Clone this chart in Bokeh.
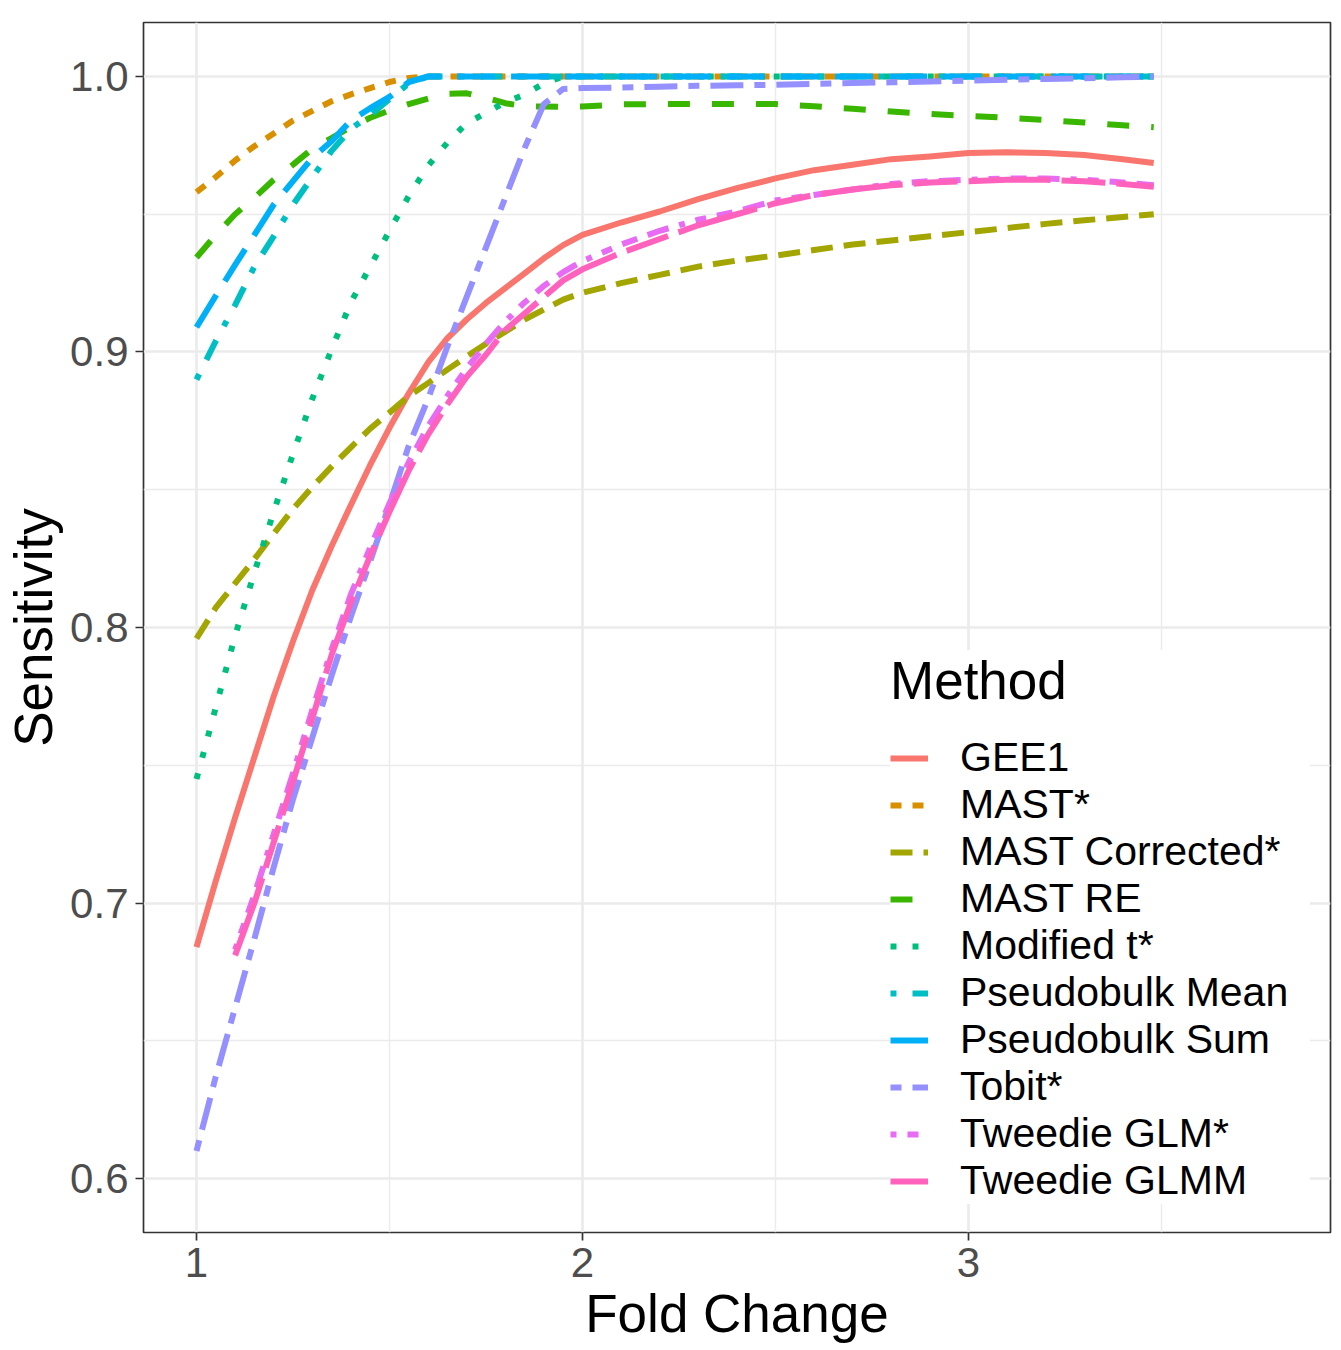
import numpy as np
from bokeh.plotting import figure
from bokeh.models import Range1d, FixedTicker, PrintfTickFormatter, Legend, LegendItem, ColumnDataSource
from bokeh.embed import file_html
from bokeh.resources import INLINE

# ---------------- data ----------------
fold_change = [1.0, 1.05, 1.1, 1.15, 1.2, 1.25, 1.3, 1.35, 1.4, 1.45,
               1.5, 1.55, 1.6, 1.65, 1.7, 1.75, 1.8, 1.85, 1.9, 1.95,
               2.0, 2.1, 2.2, 2.3, 2.4, 2.5, 2.6, 2.7, 2.8, 2.9,
               3.0, 3.1, 3.2, 3.3, 3.4, 3.48]

gee1 = [0.684, 0.708, 0.731, 0.753, 0.775, 0.795, 0.8135, 0.8295, 0.8445, 0.859,
        0.8725, 0.885, 0.8962, 0.905, 0.9118, 0.9178, 0.9232, 0.9285, 0.934, 0.9388,
        0.9425, 0.947, 0.951, 0.9555, 0.9595, 0.963, 0.966, 0.968, 0.970, 0.971,
        0.9722, 0.9725, 0.9722, 0.9715, 0.970, 0.9686]

mast = [0.958, 0.9635, 0.9695, 0.9747, 0.9793, 0.984, 0.9875, 0.991, 0.9935, 0.9958,
        0.998, 0.9995, 1.0, 1.0, 1.0, 1.0, 1.0, 1.0, 1.0, 1.0,
        1.0, 1.0, 1.0, 1.0, 1.0, 1.0, 1.0, 1.0, 1.0, 1.0,
        1.0, 1.0, 1.0, 1.0, 1.0, 1.0]

mast_corrected = [0.796, 0.8072, 0.816, 0.8248, 0.834, 0.843, 0.851, 0.8584, 0.8654, 0.8722,
                  0.878, 0.884, 0.8887, 0.8936, 0.8984, 0.903, 0.9074, 0.9118, 0.9154, 0.919,
                  0.9215, 0.925, 0.928, 0.931, 0.9332, 0.935, 0.937, 0.939, 0.9405, 0.942,
                  0.9435, 0.945, 0.9465, 0.9478, 0.949, 0.950]

mast_re = [0.9343, 0.9425, 0.950, 0.956, 0.9625, 0.968, 0.9738, 0.9776, 0.9817, 0.985,
           0.9877, 0.990, 0.992, 0.9937, 0.9939, 0.9923, 0.9903, 0.9892, 0.9891, 0.989,
           0.9891, 0.9899, 0.990, 0.990, 0.990, 0.990, 0.9892, 0.9883, 0.9873, 0.9864,
           0.9857, 0.985, 0.9842, 0.9833, 0.9823, 0.9816]

modified_t = [0.745, 0.771, 0.797, 0.820, 0.842, 0.863, 0.883, 0.901, 0.918, 0.931,
              0.944, 0.9566, 0.9676, 0.976, 0.983, 0.9868, 0.9907, 0.9934, 0.9975, 1.0,
              1.0, 1.0, 1.0, 1.0, 1.0, 1.0, 1.0, 1.0, 1.0, 1.0,
              1.0, 1.0, 1.0, 1.0, 1.0, 1.0]

pseudobulk_mean = [0.890, 0.904, 0.917, 0.931, 0.942, 0.9535, 0.9635, 0.973, 0.981, 0.986,
                   0.9918, 0.9975, 1.0, 1.0, 1.0, 1.0, 1.0, 1.0, 1.0, 1.0,
                   1.0, 1.0, 1.0, 1.0, 1.0, 1.0, 1.0, 1.0, 1.0, 1.0,
                   1.0, 1.0, 1.0, 1.0, 1.0, 1.0]

pseudobulk_sum = [0.909, 0.9204, 0.9316, 0.9425, 0.9535, 0.962, 0.9705, 0.9765, 0.984, 0.9885,
                  0.9926, 0.998, 1.0, 1.0, 1.0, 1.0, 1.0, 1.0, 1.0, 1.0,
                  1.0, 1.0, 1.0, 1.0, 1.0, 1.0, 1.0, 1.0, 1.0, 1.0,
                  1.0, 1.0, 1.0, 1.0, 1.0, 1.0]

tobit = [0.610, 0.637, 0.662, 0.687, 0.713, 0.7376, 0.760, 0.7825, 0.804, 0.824,
         0.8447, 0.866, 0.883, 0.902, 0.920, 0.938, 0.956, 0.974, 0.990, 0.9955,
         0.9958, 0.996, 0.9963, 0.9966, 0.9968, 0.997, 0.9973, 0.9976, 0.9979, 0.9982,
         0.9985, 0.9988, 0.9991, 0.9994, 0.9997, 1.0]

tweedie_glm = [None, None, 0.683, 0.703, 0.725, 0.747, 0.770, 0.792, 0.812, 0.829,
               0.845, 0.860, 0.873, 0.884, 0.894, 0.903, 0.911, 0.918, 0.924, 0.929,
               0.933, 0.939, 0.944, 0.948, 0.951, 0.955, 0.957, 0.959, 0.961, 0.962,
               0.9625, 0.963, 0.963, 0.9625, 0.9615, 0.9605]

tweedie_glmm = [None, None, 0.681, 0.700, 0.722, 0.744, 0.767, 0.790, 0.809, 0.826,
                0.842, 0.857, 0.870, 0.881, 0.891, 0.899, 0.908, 0.914, 0.920, 0.926,
                0.930, 0.936, 0.941, 0.946, 0.950, 0.954, 0.957, 0.959, 0.9605, 0.9615,
                0.962, 0.9625, 0.9625, 0.962, 0.961, 0.960]

methods = ["GEE1", "MAST*", "MAST Corrected*", "MAST RE", "Modified t*",
           "Pseudobulk Mean", "Pseudobulk Sum", "Tobit*", "Tweedie GLM*", "Tweedie GLMM"]
series = [gee1, mast, mast_corrected, mast_re, modified_t,
          pseudobulk_mean, pseudobulk_sum, tobit, tweedie_glm, tweedie_glmm]
colors = ["#F8766D", "#D89000", "#A3A500", "#39B600", "#00BF7D",
          "#00BFC4", "#00B0F6", "#9590FF", "#E76BF3", "#FF62BC"]
dashes = ["solid", "11 11", "22 11", "22 22", "6 16",
          "6 16 22 16", "38 16", "11 11 33 11", "6 11 11 11 16 11 22 11", "82 11 44 11"]

x_ticks = [1, 2, 3]
x_minor = [1.5, 2.5, 3.5]
y_ticks = [0.6, 0.7, 0.8, 0.9, 1.0]
y_minor = [0.65, 0.75, 0.85, 0.95]

FONT = "Liberation Sans"

p = figure(width=1341, height=1350, output_backend="svg", toolbar_location=None,
           x_range=Range1d(0.8627, 3.938), y_range=Range1d(0.5804, 1.0196),
           min_border_left=143, min_border_right=11, min_border_top=22, min_border_bottom=118,
           background_fill_color="white", border_fill_color="white")

p.outline_line_color = "#333333"
p.outline_line_width = 1.7

for ax, ticks, minor in ((p.xaxis, x_ticks, x_minor), (p.yaxis, y_ticks, y_minor)):
    ax.ticker = FixedTicker(ticks=ticks, minor_ticks=minor)
    ax.axis_line_color = None
    ax.major_tick_line_color = "#333333"
    ax.major_tick_line_width = 1.7
    ax.major_tick_out = 8
    ax.major_tick_in = 0
    ax.minor_tick_line_color = None
    ax.major_label_text_font = FONT
    ax.major_label_text_font_size = "42px"
    ax.major_label_text_color = "#4D4D4D"
    ax.axis_label_text_font = FONT
    ax.axis_label_text_font_size = "53px"
    ax.axis_label_text_font_style = "normal"
    ax.axis_label_text_color = "black"

p.xaxis.formatter = PrintfTickFormatter(format="%.0f")
p.yaxis.formatter = PrintfTickFormatter(format="%.1f")
p.xaxis.axis_label = "Fold Change"
p.yaxis.axis_label = "Sensitivity"
p.xaxis.major_label_standoff = 7
p.yaxis.major_label_standoff = 7
p.xaxis.axis_label_standoff = 4
p.yaxis.axis_label_standoff = 4

for g in (p.xgrid, p.ygrid):
    g.grid_line_color = "#EBEBEB"
    g.grid_line_width = 2.7
    g.minor_grid_line_color = "#EBEBEB"
    g.minor_grid_line_width = 1.4

fc = np.array(fold_change, dtype=float)
items = []
for name, vals, col, dash in zip(methods, series, colors, dashes):
    src = ColumnDataSource(data=dict(x=fc, y=np.array(vals, dtype=float)))
    r = p.line("x", "y", source=src, line_color=col, line_width=6,
               line_dash=dash, line_join="round", line_cap="butt")
    items.append(LegendItem(label=name, renderers=[r]))

legend = Legend(items=items, location=(747, 28), title="Method",
                title_text_font=FONT, title_text_font_size="53px",
                title_text_font_style="normal", title_text_color="black",
                title_standoff=23,
                label_text_font=FONT, label_text_font_size="41px", label_text_color="black",
                glyph_width=38, glyph_height=46, label_height=46, label_width=350,
                label_standoff=32, spacing=0, padding=13, margin=0,
                background_fill_color="white", background_fill_alpha=1.0,
                border_line_color=None)
p.add_layout(legend)

open("out.html", "w").write(file_html(p, INLINE))
